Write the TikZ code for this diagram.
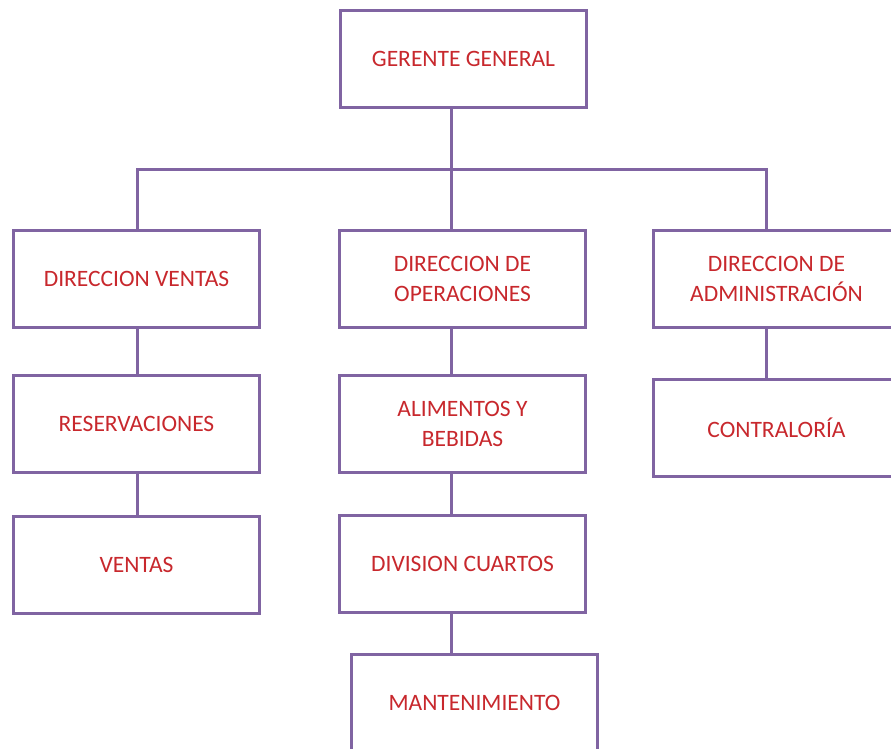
\documentclass[tikz,border=0pt]{standalone}
\usepackage{fontspec}
\setmainfont{Carlito}
\usepackage{tikz}

\begin{document}
\begin{tikzpicture}[x=1pt,y=-1pt,
  puesto/.style={draw=boxColor, line width=3pt, fill=white, minimum width=246pt, minimum height=97pt, inner sep=0pt, align=center, text=txtColor, font=\fontsize{23.5}{30}\selectfont},
  enlace/.style={draw=boxColor, line width=3pt}]
\definecolor{boxColor}{RGB}{128,100,162}
\definecolor{txtColor}{RGB}{200,40,45}
\useasboundingbox (0,0) rectangle (891,749);
\clip (0,0) rectangle (891,749);
% puestos
\node[puesto] (gg) at (463.5,59) {GERENTE GENERAL};
\node[puesto] (dv) at (136.5,279) {DIRECCION VENTAS};
\node[puesto] (dop) at (462.5,279) {DIRECCION DE\\OPERACIONES};
\node[puesto] (dad) at (776.5,279) {DIRECCION DE\\ADMINISTRACIÓN};
\node[puesto] (res) at (136.5,423.5) {RESERVACIONES};
\node[puesto] (ayb) at (462.5,424) {ALIMENTOS Y\\BEBIDAS};
\node[puesto] (con) at (776.5,427.5) {CONTRALORÍA};
\node[puesto] (ven) at (136.5,564.5) {VENTAS};
\node[puesto] (dcu) at (462.5,564) {DIVISION CUARTOS};
\node[puesto] (man) at (474.5,703) {MANTENIMIENTO};
% enlaces
\coordinate (colA) at (137,0);
\coordinate (colB) at (451.5,0);
\coordinate (colC) at (766,0);
\coordinate (bus) at (0,169);
\draw[enlace] (gg.south -| colB) -- (dop.north -| colB);
\draw[enlace] (dv.north -| colA) |- (bus -| colC) -- (dad.north -| colC);
\foreach \a/\b/\c in {dv/res/colA, res/ven/colA, dop/ayb/colB, ayb/dcu/colB, dcu/man/colB, dad/con/colC}
  \draw[enlace] (\a.south -| \c) -- (\b.north -| \c);
\end{tikzpicture}
\end{document}
